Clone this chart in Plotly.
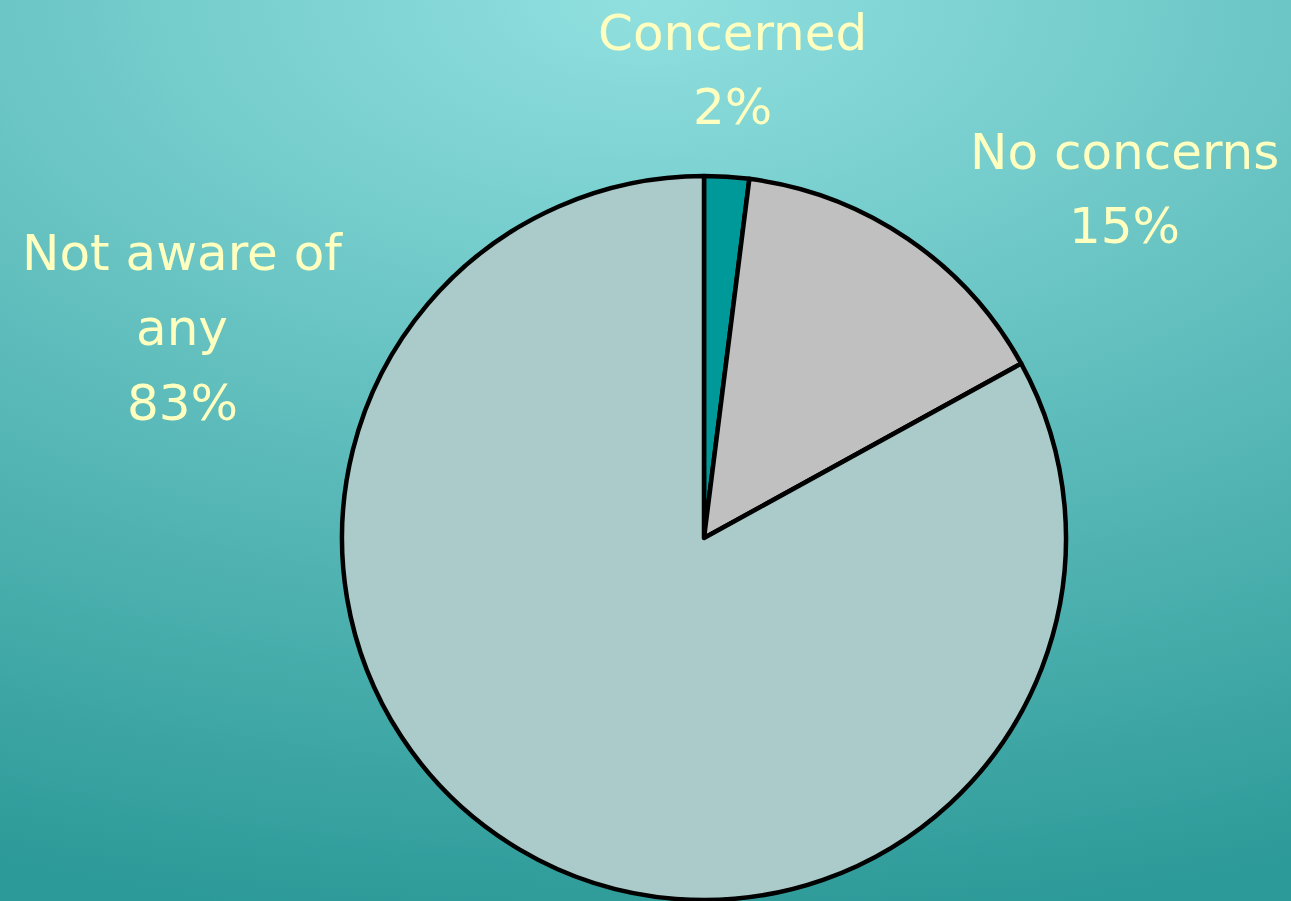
import base64
import plotly.graph_objects as go

# Data
categories = ["Concerned", "No concerns", "Not aware of any"]
values = [2, 15, 83]
colors = ["#009999", "#C0C0C0", "#AACBCA"]
label_lines = [["Concerned"], ["No concerns"], ["Not aware of", "any"]]

W, H = 1291, 901

# Background gradient (decorative), as an SVG data URI
svg = f'''<svg xmlns="http://www.w3.org/2000/svg" width="{W}" height="{H}" viewBox="0 0 {W} {H}" preserveAspectRatio="none">
<defs><radialGradient id="g" gradientUnits="userSpaceOnUse" cx="0" cy="0" r="1"
 gradientTransform="translate(645,0) scale(1720,932)">
<stop offset="0" stop-color="rgb(145,224,224)"/>
<stop offset="1" stop-color="rgb(44,154,152)"/>
</radialGradient></defs>
<rect x="0" y="0" width="{W}" height="{H}" fill="url(#g)"/>
</svg>'''
src = "data:image/svg+xml;base64," + base64.b64encode(svg.encode()).decode()

# Pie geometry (pixels)
cx, cy, r = 704, 538, 362

fig = go.Figure(go.Pie(
    labels=categories,
    values=values,
    marker=dict(colors=colors, line=dict(color="black", width=4.5)),
    sort=False,
    direction="clockwise",
    rotation=0,
    textinfo="none",
    hoverinfo="label+percent",
    showlegend=False,
    domain=dict(x=[(cx - r) / W, (cx + r) / W],
                y=[(H - cy - r) / H, (H - cy + r) / H]),
))

# Label placement (pixel centres of each line)
total = sum(values)
label_pos = [
    (732, [33, 107]),
    (1124, [152, 226]),
    (182, [253, 328, 403]),
]
font = dict(family="DejaVu Sans", size=50, color="#FFFFC0")
annotations = []
for i, cat in enumerate(categories):
    lines = label_lines[i] + [f"{round(values[i] / total * 100)}%"]
    x, ys = label_pos[i]
    for line, y in zip(lines, ys):
        annotations.append(dict(
            text=line, x=x / W, y=1 - y / H, xref="paper", yref="paper",
            xanchor="center", yanchor="middle", showarrow=False, font=font,
        ))

fig.update_layout(
    width=W, height=H,
    margin=dict(l=0, r=0, t=0, b=0),
    paper_bgcolor="rgb(80,180,178)",
    plot_bgcolor="rgba(0,0,0,0)",
    images=[dict(source=src, xref="paper", yref="paper", x=0, y=1,
                 sizex=1, sizey=1, xanchor="left", yanchor="top",
                 sizing="stretch", layer="below")],
    annotations=annotations,
)

fig.write_html("out.html",
               config={"displayModeBar": False},
               post_script="document.body.style.margin='0';document.body.style.overflow='hidden';")
